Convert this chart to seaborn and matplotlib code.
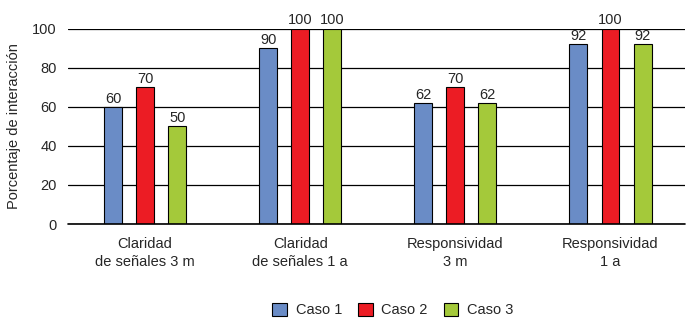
import matplotlib
matplotlib.use('Agg')
import matplotlib.pyplot as plt
import seaborn as sns
import pandas as pd
from matplotlib.patches import Patch

# data
categories = ['Claridad\nde señales 3 m', 'Claridad\nde señales 1 a',
              'Responsividad\n3 m', 'Responsividad\n1 a']
series = ['Caso 1', 'Caso 2', 'Caso 3']
caso1 = [60, 90, 62, 92]
caso2 = [70, 100, 70, 100]
caso3 = [50, 100, 62, 92]
colors = ['#6a8cc6', '#ec1c24', '#a4c93a']

df = pd.DataFrame({
    'categoria': categories * 3,
    'serie': [s for s in series for _ in categories],
    'valor': caso1 + caso2 + caso3,
})

sns.set_style('white')
plt.rcParams['font.family'] = ['Liberation Sans', 'DejaVu Sans']

fig = plt.figure(figsize=(6.94, 3.28), dpi=100)
ax = fig.add_axes([0.098, 0.317, 0.889, 0.595])

sns.barplot(data=df, x='categoria', y='valor', hue='serie', palette=colors,
            saturation=1, width=0.62, gap=0.44, edgecolor='black', linewidth=0.8,
            legend=False, zorder=3, ax=ax)

for container in ax.containers:
    ax.bar_label(container, fmt='%d', padding=1, fontsize=10.5, clip_on=False)

ax.set_ylim(0, 100)
ax.set_xlim(-0.497, 3.48)
ax.set_yticks([0, 20, 40, 60, 80, 100])
ax.yaxis.grid(True, color='black', linewidth=0.9, zorder=0)
ax.axhline(0, color='black', linewidth=1.2, clip_on=False, zorder=4)
ax.set_axisbelow(True)
for s in ax.spines.values():
    s.set_visible(False)
ax.tick_params(axis='both', length=0, labelsize=10.5)
ax.tick_params(axis='y', pad=8)
ax.tick_params(axis='x', pad=9)
for lbl in ax.get_xticklabels():
    lbl.set_linespacing(1.45)
ax.set_xlabel('')
ax.set_ylabel('Porcentaje de interacción', fontsize=10.5, labelpad=8)

handles = [Patch(facecolor=c, edgecolor='black', linewidth=0.8) for c in colors]
fig.legend(handles, series, loc='center', bbox_to_anchor=(0.566, 0.055), ncol=3,
           frameon=False, fontsize=10.5, handlelength=1.0, handleheight=1.0,
           columnspacing=1.1, handletextpad=0.6)

fig.savefig('out.png', dpi=100)
